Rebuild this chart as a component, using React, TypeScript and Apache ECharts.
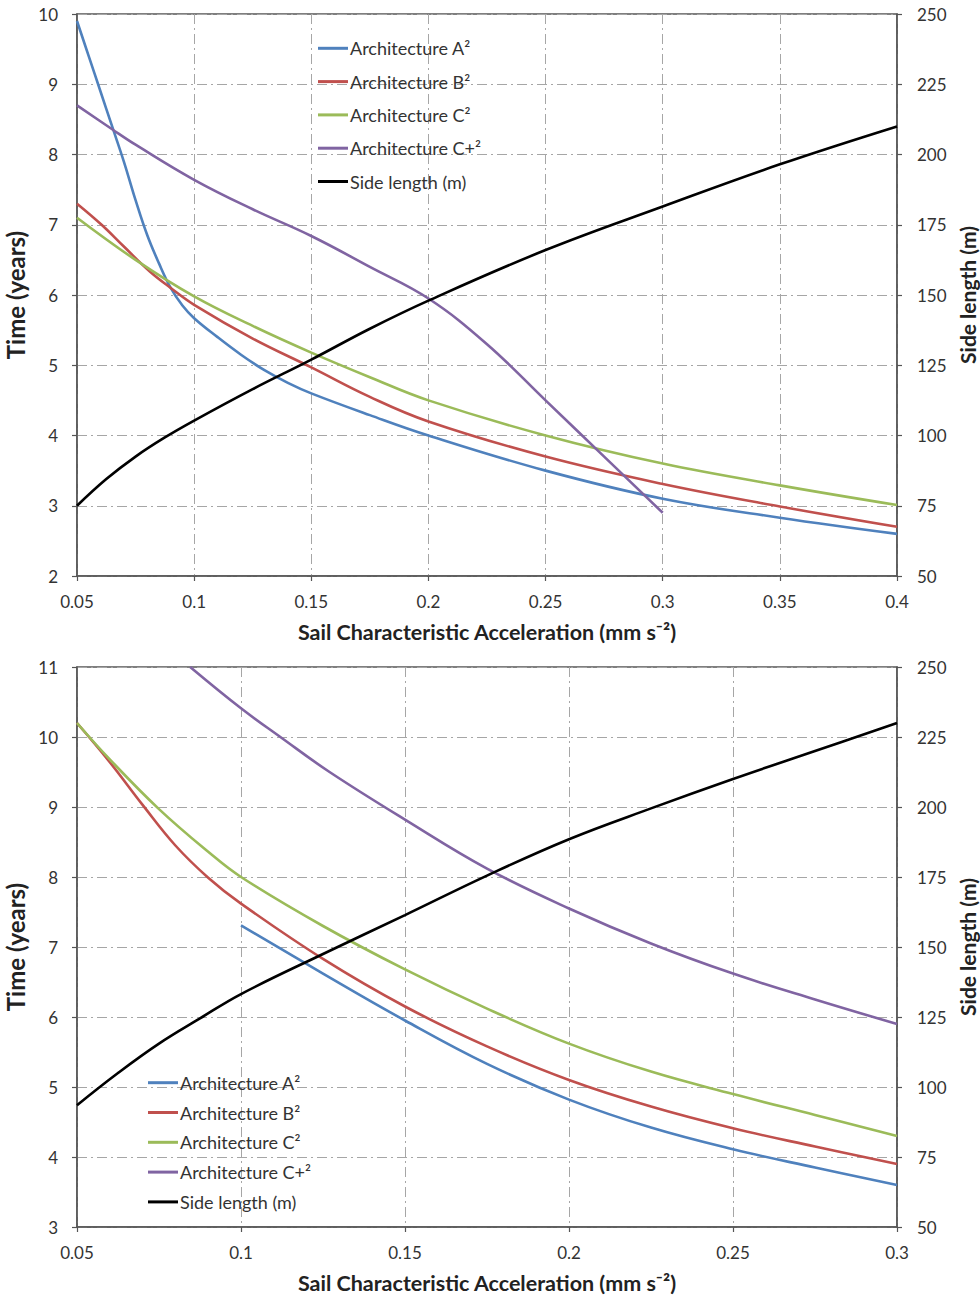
import React, { useEffect, useRef } from "react";
import * as echarts from "echarts";

// ---------- Top chart data ----------
const topAX = [0.05, 0.055, 0.06, 0.065, 0.07, 0.075, 0.08, 0.085, 0.09, 0.095, 0.1, 0.11, 0.12, 0.13, 0.14, 0.15, 0.175, 0.2, 0.25, 0.3, 0.35, 0.4];
const topAY = [9.9, 9.4, 8.9, 8.4, 7.9, 7.35, 6.85, 6.45, 6.1, 5.85, 5.67, 5.4, 5.15, 4.93, 4.75, 4.6, 4.29, 4.0, 3.5, 3.1, 2.83, 2.6];
const topBX = [0.05, 0.0605, 0.07, 0.0812, 0.09, 0.1, 0.125, 0.15, 0.175, 0.2, 0.25, 0.3, 0.35, 0.4];
const topBY = [7.3, 7.0, 6.69, 6.33, 6.1, 5.86, 5.38, 4.97, 4.55, 4.2, 3.7, 3.31, 2.99, 2.7];
const topCX = [0.05, 0.075, 0.1, 0.125, 0.15, 0.175, 0.2, 0.25, 0.3, 0.35, 0.4];
const topCY = [7.1, 6.5, 5.98, 5.56, 5.18, 4.83, 4.5, 4.0, 3.6, 3.29, 3.01];
const topCPX = [0.05, 0.065, 0.075, 0.1, 0.125, 0.15, 0.175, 0.2, 0.225, 0.25, 0.275, 0.3];
const topCPY = [8.7, 8.36, 8.14, 7.64, 7.22, 6.84, 6.4, 5.95, 5.3, 4.5, 3.7, 2.9];
const topSideX = [0.05, 0.0625, 0.075, 0.0875, 0.1, 0.125, 0.15, 0.175, 0.2, 0.25, 0.3, 0.35, 0.4];
const topSideY = [75, 84.5, 92.5, 99.3, 105.3, 116.5, 127, 138, 148, 166, 181.5, 196.5, 210];

// ---------- Bottom chart data ----------
const botAX = [0.1, 0.125, 0.15, 0.175, 0.2, 0.225, 0.25, 0.275, 0.3];
const botAY = [7.31, 6.62, 5.95, 5.33, 4.82, 4.42, 4.11, 3.85, 3.6];
const botBX = [0.05, 0.06, 0.07, 0.08, 0.09, 0.1, 0.125, 0.15, 0.175, 0.2, 0.225, 0.25, 0.275, 0.3];
const botBY = [10.2, 9.64, 9.03, 8.45, 7.99, 7.62, 6.83, 6.15, 5.58, 5.1, 4.72, 4.41, 4.15, 3.9];
const botCX = [0.05, 0.06, 0.075, 0.09, 0.1, 0.125, 0.15, 0.175, 0.2, 0.225, 0.25, 0.275, 0.3];
const botCY = [10.2, 9.68, 8.97, 8.36, 8.0, 7.3, 6.68, 6.12, 5.62, 5.22, 4.9, 4.6, 4.3];
const botCPX = [0.0845, 0.1, 0.112, 0.127, 0.15, 0.175, 0.2, 0.225, 0.25, 0.275, 0.3];
const botCPY = [11, 10.41, 10.0, 9.5, 8.82, 8.12, 7.55, 7.05, 6.62, 6.25, 5.9];
const botSideX = [0.05, 0.0625, 0.075, 0.0875, 0.1, 0.125, 0.15, 0.175, 0.2, 0.225, 0.25, 0.275, 0.3];
const botSideY = [93.5, 105, 115.5, 124.5, 133.2, 147.5, 161.4, 175.5, 188.5, 199.5, 210, 220, 230];

const seriesNames = ["Architecture A²", "Architecture B²", "Architecture C²", "Architecture C+²", "Side length (m)"];
const seriesColors = ["#4F81BD", "#C0504D", "#9BBB59", "#8064A2", "#000000"];
const xTitle = "Sail Characteristic Acceleration (mm s⁻²)";
const yLeftTitle = "Time (years)";
const yRightTitle = "Side length (m)";

const pairs = (xs: number[], ys: number[]) => xs.map((x, i) => [x, ys[i]]);

const FONT = "Lato, 'Open Sans', sans-serif";
const AXIS_COLOR = "#555555";
const GRID_LINE = { color: "#a6a6a6", type: [10, 4, 2, 4] as any, width: 1 };

function xAxisCfg(gridIndex: number, max: number) {
  return {
    type: "value",
    gridIndex,
    min: 0.05,
    max,
    interval: 0.05,
    name: xTitle,
    nameLocation: "middle",
    nameGap: 45,
    nameTextStyle: { fontFamily: FONT, fontSize: 21.5, fontWeight: "bold", color: "#222" },
    axisLine: { show: true, onZero: false, lineStyle: { color: AXIS_COLOR, width: 1.5 } },
    axisTick: { show: true, inside: false, length: 5, lineStyle: { color: AXIS_COLOR, width: 1.2 } },
    axisLabel: {
      fontFamily: FONT,
      fontSize: 17,
      color: "#333",
      margin: 17,
      formatter: (v: number) => String(Math.round(v * 100) / 100),
    },
    splitLine: { show: true, lineStyle: GRID_LINE },
  };
}

function yLeftCfg(gridIndex: number, min: number, max: number) {
  return {
    type: "value",
    gridIndex,
    position: "left",
    min,
    max,
    interval: 1,
    name: yLeftTitle,
    nameLocation: "middle",
    nameRotate: 90,
    nameGap: 43,
    nameTextStyle: { fontFamily: FONT, fontSize: 24, fontWeight: "bold", color: "#222" },
    axisLine: { show: true, onZero: false, lineStyle: { color: AXIS_COLOR, width: 1.5 } },
    axisTick: { show: true, inside: false, length: 5, lineStyle: { color: AXIS_COLOR, width: 1.2 } },
    axisLabel: { fontFamily: FONT, fontSize: 17, color: "#333", margin: 19 },
    splitLine: { show: true, lineStyle: GRID_LINE },
  };
}

function yRightCfg(gridIndex: number) {
  return {
    type: "value",
    gridIndex,
    position: "right",
    min: 50,
    max: 250,
    interval: 25,
    name: yRightTitle,
    nameLocation: "middle",
    nameRotate: 90,
    nameGap: 50,
    nameTextStyle: { fontFamily: FONT, fontSize: 21, fontWeight: "bold", color: "#222" },
    axisLine: { show: true, onZero: false, lineStyle: { color: AXIS_COLOR, width: 1.5 } },
    axisTick: { show: true, inside: false, length: 5, lineStyle: { color: AXIS_COLOR, width: 1.2 } },
    axisLabel: { fontFamily: FONT, fontSize: 17, color: "#333", margin: 20 },
    splitLine: { show: false },
  };
}

function lineSeries(name: string, color: string, data: number[][], xi: number, yi: number) {
  return {
    type: "line",
    name,
    xAxisIndex: xi,
    yAxisIndex: yi,
    data,
    symbol: "none",
    showSymbol: false,
    smooth: 0.4,
    lineStyle: { color, width: 2.6 },
    itemStyle: { color },
    clip: true,
  };
}

function buildOption() {
  const topData = [pairs(topAX, topAY), pairs(topBX, topBY), pairs(topCX, topCY), pairs(topCPX, topCPY), pairs(topSideX, topSideY)];
  const botData = [pairs(botAX, botAY), pairs(botBX, botBY), pairs(botCX, botCY), pairs(botCPX, botCPY), pairs(botSideX, botSideY)];
  const series: any[] = [];
  topData.forEach((d, i) => series.push(lineSeries(seriesNames[i], seriesColors[i], d, 0, i === 4 ? 1 : 0)));
  botData.forEach((d, i) => series.push(lineSeries(seriesNames[i], seriesColors[i], d, 1, i === 4 ? 3 : 2)));

  const legendBase = {
    orient: "vertical",
    icon: "rect",
    itemWidth: 30,
    itemHeight: 3,
    padding: 0,
    data: seriesNames,
    selectedMode: false,
    textStyle: { fontFamily: FONT, fontSize: 18, color: "#333", padding: [0, 0, 0, -3] },
  };

  const gridBase = {
    show: true,
    borderColor: AXIS_COLOR,
    borderWidth: 1.5,
    backgroundColor: "transparent",
    outerBoundsMode: "none",
    containLabel: false,
  };

  return {
    animation: false,
    backgroundColor: "#ffffff",
    grid: [
      { ...gridBase, left: 77, top: 14, width: 820, height: 562 },
      { ...gridBase, left: 77, top: 667, width: 820, height: 560 },
    ],
    xAxis: [xAxisCfg(0, 0.4), xAxisCfg(1, 0.3)],
    yAxis: [yLeftCfg(0, 2, 10), yRightCfg(0), yLeftCfg(1, 3, 11), yRightCfg(1)],
    legend: [
      { ...legendBase, left: 318, top: 39.3, itemGap: 15.3 },
      { ...legendBase, left: 148, top: 1073.7, itemGap: 11.8 },
    ],
    series,
  };
}

export default function App() {
  const ref = useRef<HTMLDivElement>(null);
  useEffect(() => {
    if (!ref.current) return;
    const chart = echarts.init(ref.current, undefined, { renderer: "svg" });
    chart.setOption(buildOption() as any);
    return () => chart.dispose();
  }, []);
  return (
    <div
      ref={ref}
      style={{ position: "absolute", left: 0, top: 0, width: 980, height: 1299, background: "#fff" }}
    />
  );
}
